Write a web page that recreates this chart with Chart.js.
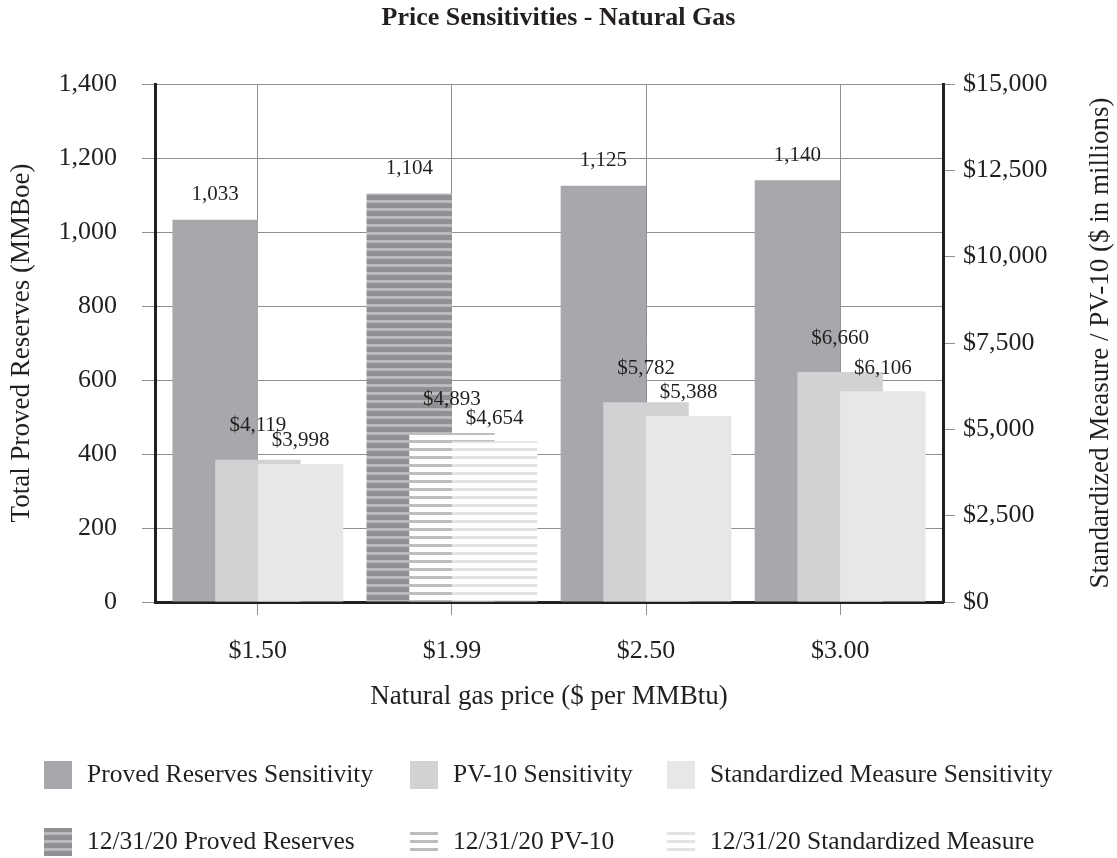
<!DOCTYPE html>
<html>
<head>
<meta charset="utf-8">
<title>Price Sensitivities - Natural Gas</title>
<script src="https://cdn.jsdelivr.net/npm/chart.js@4"></script>
<style>
  html, body { margin: 0; padding: 0; background: #ffffff; }
  #wrap { width: 1117px; height: 858px; position: relative; }
</style>
</head>
<body>
<div id="wrap"><canvas id="chart"></canvas></div>
<script>
// Natural gas price cases ($ per MMBtu)
const priceLabels = ['$1.50', '$1.99', '$2.50', '$3.00'];
// Total proved reserves (MMBoe)
const provedReserves = [1033, 1104, 1125, 1140];
// PV-10 ($ in millions)
const pv10 = [4119, 4893, 5782, 6660];
// Standardized Measure ($ in millions)
const standardizedMeasure = [3998, 4654, 5388, 6106];
// The $1.99 case is the reported 12/31/20 position
const yearEndIndex = 1;

const seriesNames = ['Proved Reserves Sensitivity', 'PV-10 Sensitivity', 'Standardized Measure Sensitivity'];
const yearEndNames = ['12/31/20 Proved Reserves', '12/31/20 PV-10', '12/31/20 Standardized Measure'];

const SERIF = '"Liberation Serif", "Times New Roman", serif';
const INK = '#231f20';
const GRID = '#8f8f91';

const canvas = document.getElementById('chart');
const ctx0 = canvas.getContext('2d');

function stripes(base, line, period, lineRows) {
  const c = document.createElement('canvas');
  c.width = 4; c.height = period;
  const g = c.getContext('2d');
  g.fillStyle = base; g.fillRect(0, 0, 4, period);
  g.fillStyle = line; g.fillRect(0, 0, 4, lineRows);
  return ctx0.createPattern(c, 'repeat');
}

const solid = ['#a7a8ab', '#d1d2d4', '#e6e7e8'];
const striped = [
  stripes('#8f9093', '#b9babc', 8, 3),
  stripes('#ffffff', '#bdbec0', 8, 3),
  stripes('#ffffff', '#e3e4e6', 8, 3)
];

function points(values) { return values.map((v, i) => ({ x: i, y: v })); }
function fills(k) { return priceLabels.map((_, i) => i === yearEndIndex ? striped[k] : solid[k]); }

const fmt = v => v.toLocaleString('en-US');

// Draw the three series left to right, so each later bar overlaps the earlier one
const overlapOrder = {
  id: 'overlapOrder',
  beforeDatasetsDraw(chart) {
    const a = chart.chartArea, ctx = chart.ctx;
    ctx.save();
    ctx.beginPath(); ctx.rect(a.left, a.top, a.width, a.height); ctx.clip();
    for (let i = 0; i < chart.data.datasets.length; i++) {
      chart.getDatasetMeta(i).controller.draw();
    }
    ctx.restore();
    return false;
  }
};

// Value labels above each bar
const valueLabels = {
  id: 'valueLabels',
  afterDraw(chart) {
    const ctx = chart.ctx;
    const lift = [25, 34, 23];
    ctx.save();
    ctx.font = '21px ' + SERIF;
    ctx.fillStyle = INK;
    ctx.textAlign = 'center';
    ctx.textBaseline = 'middle';
    chart.data.datasets.forEach((ds, k) => {
      chart.getDatasetMeta(k).data.forEach((el, i) => {
        const v = ds.data[i].y;
        const txt = k === 0 ? fmt(v) : '$' + fmt(v);
        ctx.fillText(txt, el.x, el.y - lift[k]);
      });
    });
    ctx.restore();
  }
};

// Axis titles and the two-row legend
const annotations = {
  id: 'annotations',
  afterDraw(chart) {
    const ctx = chart.ctx, a = chart.chartArea;
    const midY = (a.top + a.bottom) / 2;
    ctx.save();
    ctx.fillStyle = INK;
    ctx.font = '27px ' + SERIF;
    ctx.textAlign = 'center';
    ctx.textBaseline = 'middle';

    ctx.fillText('Natural gas price ($ per MMBtu)', (a.left + a.right) / 2, 697);

    ctx.save();
    ctx.translate(22, midY); ctx.rotate(-Math.PI / 2);
    ctx.fillText('Total Proved Reserves (MMBoe)', 0, 0);
    ctx.restore();

    ctx.save();
    ctx.translate(1101, midY); ctx.rotate(-Math.PI / 2);
    ctx.fillText('Standardized Measure / PV-10 ($ in millions)', 0, 0);
    ctx.restore();

    // legend
    const cols = [44, 410, 667];
    const rows = [775, 842];
    const box = 28;
    ctx.font = '25.5px ' + SERIF;
    ctx.textAlign = 'left';
    [seriesNames, yearEndNames].forEach((names, r) => {
      names.forEach((name, k) => {
        const x = cols[k], y = rows[r];
        ctx.fillStyle = r === 0 ? solid[k] : striped[k];
        ctx.fillRect(x, y - box / 2, box, box);
        ctx.fillStyle = INK;
        ctx.fillText(name, x + box + 15, y);
      });
    });
    ctx.restore();
  }
};

const barStyle = { categoryPercentage: 0.66, barPercentage: 2.0, borderWidth: 0 };

new Chart(canvas, {
  type: 'bar',
  data: {
    datasets: [
      { label: seriesNames[0], data: points(provedReserves), yAxisID: 'yLeft', backgroundColor: fills(0), ...barStyle },
      { label: seriesNames[1], data: points(pv10), yAxisID: 'yRight', backgroundColor: fills(1), ...barStyle },
      { label: seriesNames[2], data: points(standardizedMeasure), yAxisID: 'yRight', backgroundColor: fills(2), ...barStyle }
    ]
  },
  options: {
    responsive: true,
    maintainAspectRatio: false,
    animation: false,
    events: [],
    layout: { padding: { top: 0, bottom: 0, left: 0, right: 0 } },
    plugins: {
      legend: { display: false },
      tooltip: { enabled: false },
      title: {
        display: true,
        text: 'Price Sensitivities - Natural Gas',
        color: INK,
        font: { family: SERIF, size: 26, weight: 'bold', lineHeight: 1.2 },
        padding: { top: 3, bottom: 49.8 }
      }
    },
    scales: {
      x: {
        type: 'linear',
        min: -0.53,
        max: 3.53,
        offset: false,
        afterBuildTicks: s => { s.ticks = priceLabels.map((_, i) => ({ value: i })); },
        afterFit: s => { s.height = 256; },
        ticks: {
          callback: v => priceLabels[v],
          color: INK,
          font: { family: SERIF, size: 26 },
          padding: 21,
          maxRotation: 0,
          autoSkip: false
        },
        grid: { color: GRID, lineWidth: 1, tickLength: 13, drawOnChartArea: true, offset: false },
        border: { display: true, color: INK, width: 3 }
      },
      yLeft: {
        type: 'linear',
        position: 'left',
        min: 0,
        max: 1400,
        afterFit: s => { s.width = 155; },
        ticks: {
          stepSize: 200,
          callback: v => fmt(v),
          color: INK,
          font: { family: SERIF, size: 26 },
          padding: 25
        },
        grid: { color: GRID, lineWidth: 1, tickLength: 13 },
        border: { display: true, color: INK, width: 3 }
      },
      yRight: {
        type: 'linear',
        position: 'right',
        min: 0,
        max: 15000,
        afterFit: s => { s.width = 174; },
        ticks: {
          stepSize: 2500,
          callback: v => '$' + fmt(v),
          color: INK,
          font: { family: SERIF, size: 26 },
          padding: 8
        },
        grid: { color: GRID, lineWidth: 1, tickLength: 12, drawOnChartArea: false },
        border: { display: true, color: INK, width: 3 }
      }
    }
  },
  plugins: [overlapOrder, valueLabels, annotations]
});
</script>
</body>
</html>
